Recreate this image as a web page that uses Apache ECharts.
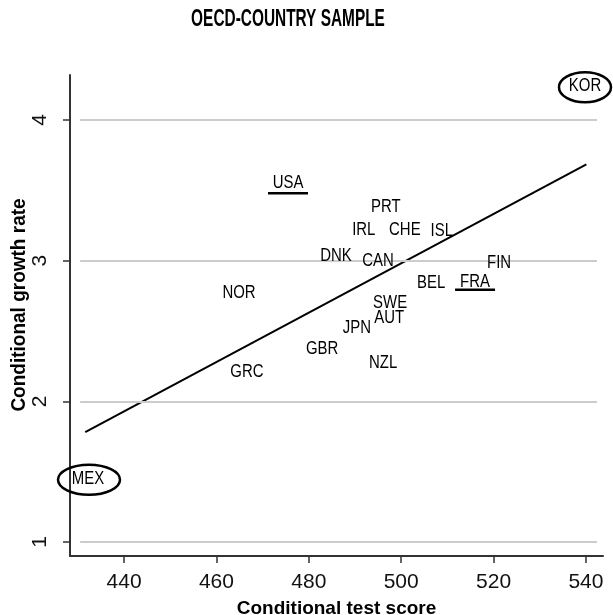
<!DOCTYPE html>
<html>
<head>
<meta charset="utf-8">
<script src="https://cdn.jsdelivr.net/npm/echarts@6/dist/echarts.min.js"></script>
<style>html,body{margin:0;padding:0;background:#fff}#c{width:613px;height:615px}</style>
</head>
<body>
<div id="c"></div>
<script>
// ---- data ----
const countries = ['KOR','MEX','USA','PRT','IRL','CHE','ISL','DNK','CAN','FIN','BEL','FRA','NOR','SWE','AUT','JPN','GBR','NZL','GRC'];
const testScore = [539.8,432.2,475.5,496.7,491.9,500.8,508.8,485.9,495.0,521.2,506.5,516.0,464.9,497.6,497.4,490.4,482.9,496.1,466.6];
const growthRate = [4.24,1.45,3.55,3.38,3.22,3.22,3.21,3.03,3.00,2.98,2.84,2.85,2.77,2.70,2.59,2.52,2.37,2.27,2.21];
const circled = ['KOR','MEX'];
const underlined = ['USA','FRA'];
const fitX = [431.6, 540.1];
const fitY = [1.78, 3.685];
const xTicks = [440,460,480,500,520,540];
const yTicks = [1,2,3,4];

const FONT = "'Liberation Sans',Arial,sans-serif";
const pts = countries.map((c,i)=>[testScore[i], growthRate[i], c]);

const chart = echarts.init(document.getElementById('c'), null, {renderer:'canvas'});
chart.setOption({
  animation:false,
  backgroundColor:'#fff',
  graphic:[
    {type:'text', x:288, y:20, scaleX:0.67,
      style:{text:'OECD-COUNTRY SAMPLE', font:"bold 23px "+FONT, fill:'#000', align:'center', verticalAlign:'middle'}},
    {type:'text', x:19, y:305, rotation:Math.PI/2, scaleX:0.95,
      style:{text:'Conditional growth rate', font:"bold 20px "+FONT, fill:'#000', align:'center', verticalAlign:'middle'}}
  ],
  grid:{left:70, right:10, top:75, bottom:59, containLabel:false, outerBoundsMode:'none'},
  xAxis:{type:'value', min:428.3, max:543.7,
    name:'Conditional test score', nameLocation:'middle', nameGap:43,
    nameTextStyle:{fontFamily:FONT, fontWeight:'bold', fontSize:19, color:'#000'},
    axisLine:{onZero:false, lineStyle:{color:'#333', width:2}},
    axisTick:{show:true, length:7, lineStyle:{color:'#333', width:1.5}, customValues:xTicks},
    axisLabel:{customValues:xTicks, margin:16, fontFamily:FONT, fontSize:21, color:'#111'},
    splitLine:{show:false}},
  yAxis:{type:'value', min:0.9, max:4.32,
    axisLine:{onZero:false, lineStyle:{color:'#333', width:2}},
    axisTick:{show:true, length:7, lineStyle:{color:'#333', width:1.5}, customValues:yTicks},
    axisLabel:{customValues:yTicks, rotate:90, margin:19, fontFamily:FONT, fontSize:21, color:'#111'},
    splitLine:{show:false}},
  series:[
    {type:'line', data:[], z:1, silent:true,
      markLine:{silent:true, symbol:['none','none'], label:{show:false},
        lineStyle:{color:'#cccccc', width:2, type:'solid'},
        data: yTicks.map(v=>[{coord:[430.5,v]},{coord:[542.4,v]}])}},
    {type:'line', data:fitX.map((x,i)=>[x,fitY[i]]), showSymbol:false, symbol:'none', z:3,
      lineStyle:{color:'#000', width:2}},
    {type:'custom', z:5, data:pts,
      renderItem:function(params, api){
        const p = api.coord([api.value(0), api.value(1)]);
        const name = countries[params.dataIndex];
        const children = [{type:'text', x:p[0], y:p[1], scaleX:0.83,
          style:{text:name, font:"18px "+FONT, fill:'#000', align:'center', verticalAlign:'middle'}}];
        if (circled.indexOf(name)>=0){
          const rx = name==='MEX'?31:26, ry = 15, cx=p[0]+(name==='MEX'?1:0), cy=p[1]+1;
          children.push({type:'path', shape:{pathData:
            `M ${cx-rx} ${cy} A ${rx} ${ry} 0 1 0 ${cx+rx} ${cy} A ${rx} ${ry} 0 1 0 ${cx-rx} ${cy} Z`},
            style:{fill:'none', stroke:'#000', lineWidth:2.5}});
        }
        if (underlined.indexOf(name)>=0){
          const dy = name==='USA'?10:8;
          children.push({type:'line', shape:{x1:p[0]-20, y1:p[1]+dy, x2:p[0]+20, y2:p[1]+dy},
            style:{stroke:'#000', lineWidth:2.5}});
        }
        return {type:'group', children:children};
      }}
  ]
});
</script>
</body>
</html>
